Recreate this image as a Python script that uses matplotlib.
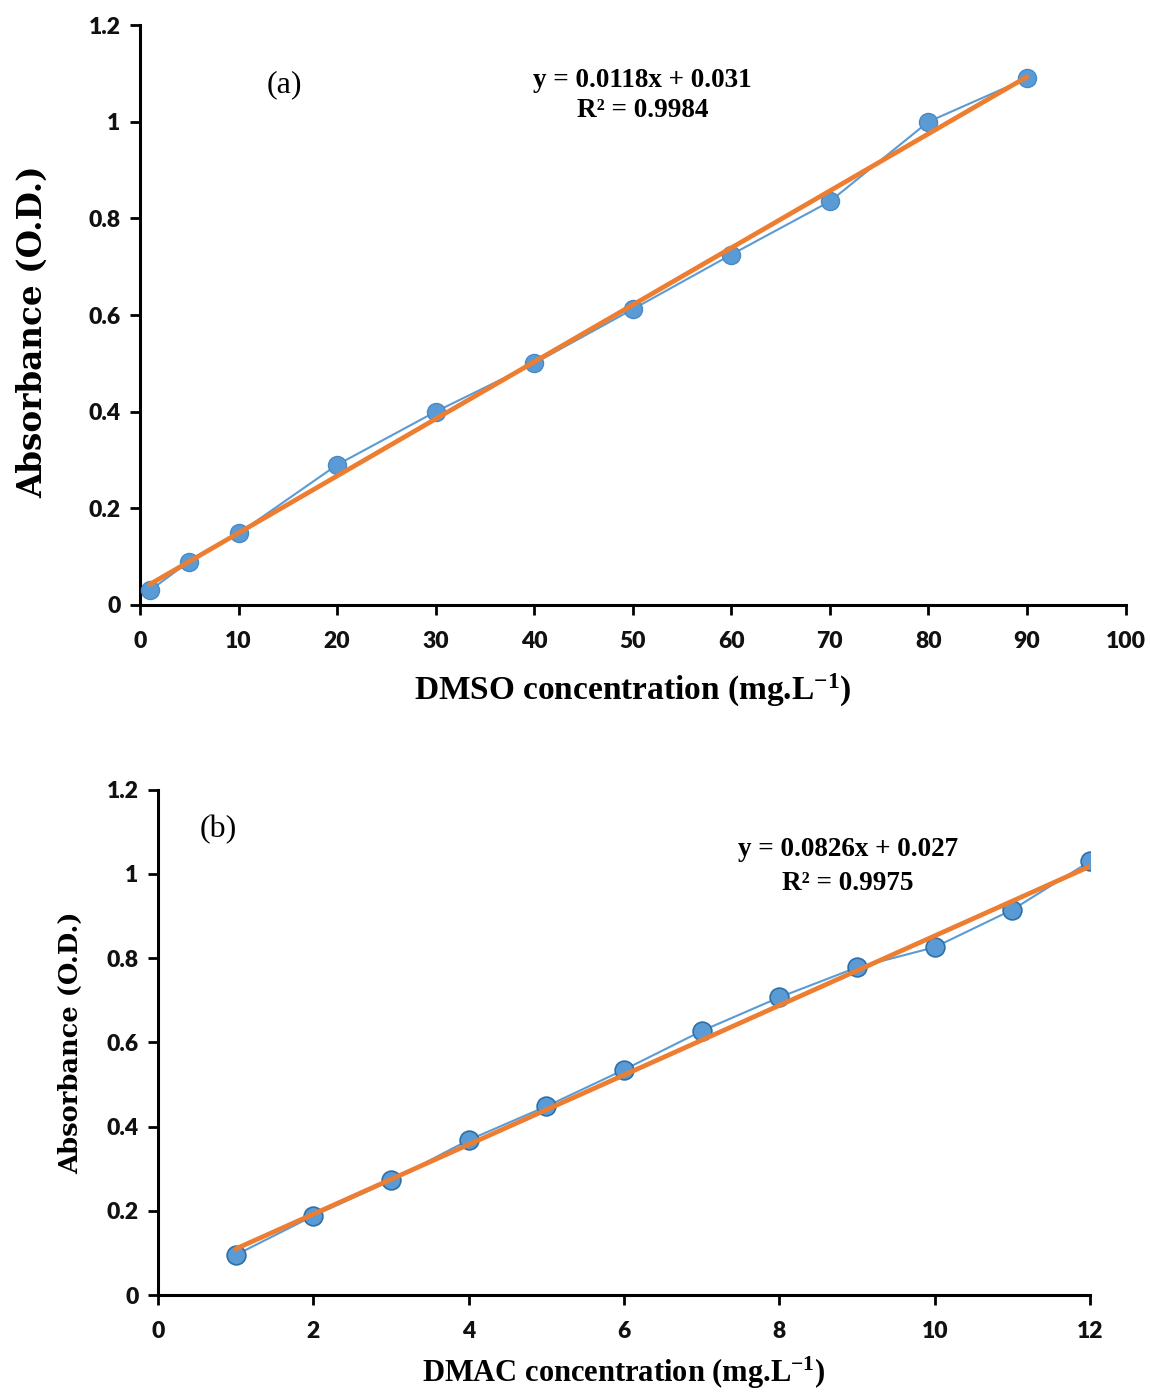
import matplotlib
matplotlib.use("Agg")
import matplotlib.pyplot as plt
import numpy as np

plt.rcParams["mathtext.fontset"] = "custom"
plt.rcParams["mathtext.rm"] = "Liberation Serif"
plt.rcParams["mathtext.bf"] = "Liberation Serif:bold"
plt.rcParams["mathtext.default"] = "bf"

# Panel (a): DMSO
dmso_conc = [1, 5, 10, 20, 30, 40, 50, 60, 70, 80, 90]
dmso_abs = [0.030, 0.090, 0.148, 0.290, 0.400, 0.500, 0.612, 0.725, 0.835, 1.000, 1.090]
dmso_slope, dmso_int = 0.0118, 0.031
dmso_eq = "y = 0.0118x + 0.031"
dmso_r2 = "R² = 0.9984"

# Panel (b): DMAC
dmac_conc = [1, 2, 3, 4, 5, 6, 7, 8, 9, 10, 11, 12]
dmac_abs = [0.095, 0.188, 0.272, 0.368, 0.448, 0.535, 0.627, 0.707, 0.778, 0.826, 0.915, 1.030]
dmac_slope, dmac_int = 0.0826, 0.027
dmac_eq = "y = 0.0826x + 0.027"
dmac_r2 = "R² = 0.9975"

yticks = [0, 0.2, 0.4, 0.6, 0.8, 1, 1.2]
ytick_labels = ["0", "0.2", "0.4", "0.6", "0.8", "1", "1.2"]
xticks_a = [0, 10, 20, 30, 40, 50, 60, 70, 80, 90, 100]
xticks_b = [0, 2, 4, 6, 8, 10, 12]

SERIF = "Liberation Serif"
WIDE = "DejaVu Serif"
SANS = "Lato"
BLUE = "#5B9BD5"
ORANGE = "#ED7D31"

fig = plt.figure(figsize=(11.5, 13.94), dpi=100)
ax1 = fig.add_axes([0.1217, 0.566, 0.857, 0.416])
ax2 = fig.add_axes([0.1374, 0.071, 0.8105, 0.3625])


def style(ax, xticks, xlim, tick_fs):
    for s in ["top", "right"]:
        ax.spines[s].set_visible(False)
    for s in ["left", "bottom"]:
        ax.spines[s].set_linewidth(2.2)
        ax.spines[s].set_color("black")
    ax.set_ylim(0, 1.2)
    ax.set_xlim(*xlim)
    ax.set_yticks(yticks)
    ax.set_yticklabels(ytick_labels)
    ax.set_xticks(xticks)
    ax.set_xticklabels([str(t) for t in xticks])
    ax.tick_params(direction="out", length=7, width=2, labelsize=tick_fs, colors="black")
    ax.tick_params(axis="y", pad=7)
    ax.tick_params(axis="x", pad=12)
    for lab in ax.get_xticklabels() + ax.get_yticklabels():
        lab.set_fontfamily(SANS)
        lab.set_fontweight("heavy")
        lab.set_color("#111111")


# Panel a
ax1.plot(dmso_conc, dmso_abs, color=BLUE, lw=1.5, zorder=2)
ax1.plot(dmso_conc, dmso_abs, "o", color=BLUE, ms=13, mec="#4a8ac4", zorder=3)
xa = np.array([dmso_conc[0], dmso_conc[-1]])
ax1.plot(xa, dmso_slope * xa + dmso_int, color=ORANGE, lw=3.4, zorder=4, solid_capstyle="round")
style(ax1, xticks_a, (0, 100), 16.5)
ax1.set_ylabel("Absorbance (O.D.)", fontfamily=WIDE, fontweight="bold", fontsize=23.5)
ax1.yaxis.set_label_coords(-0.092, 0.471)
ax1.set_xlabel("DMSO concentration (mg.L$^{-1}$)", fontfamily=SERIF, fontweight="bold", fontsize=24, labelpad=14)
ax1.text(14.7, 1.076, "(a)", fontfamily=SERIF, fontsize=23, ha="center", va="center")
ax1.text(51, 1.086, dmso_eq, fontfamily=SERIF, fontweight="bold", fontsize=19.5, ha="center", va="center")
ax1.text(51, 1.024, dmso_r2, fontfamily=SERIF, fontweight="bold", fontsize=19.5, ha="center", va="center")

# Panel b
ax2.plot(dmac_conc, dmac_abs, color=BLUE, lw=1.5, zorder=2)
ax2.plot(dmac_conc, dmac_abs, "o", color=BLUE, ms=13.5, mec="#2f6fa8", mew=1.2, zorder=3)
xb = np.array([dmac_conc[0], dmac_conc[-1]])
ax2.plot(xb, dmac_slope * xb + dmac_int, color=ORANGE, lw=3.4, zorder=4, solid_capstyle="round")
style(ax2, xticks_b, (0, 12), 16.5)
ax2.set_ylabel("Absorbance (O.D.)", fontfamily=WIDE, fontweight="bold", fontsize=18.5)
ax2.yaxis.set_label_coords(-0.080, 0.5)
ax2.set_xlabel("DMAC concentration (mg.L$^{-1}$)", fontfamily=SERIF, fontweight="bold", fontsize=22, labelpad=9)
ax2.text(0.77, 1.105, "(b)", fontfamily=SERIF, fontsize=23, ha="center", va="center")
ax2.text(8.88, 1.057, dmac_eq, fontfamily=SERIF, fontweight="bold", fontsize=19.5, ha="center", va="center")
ax2.text(8.88, 0.977, dmac_r2, fontfamily=SERIF, fontweight="bold", fontsize=19.5, ha="center", va="center")

fig.savefig("out.png", dpi=100, facecolor="white")
